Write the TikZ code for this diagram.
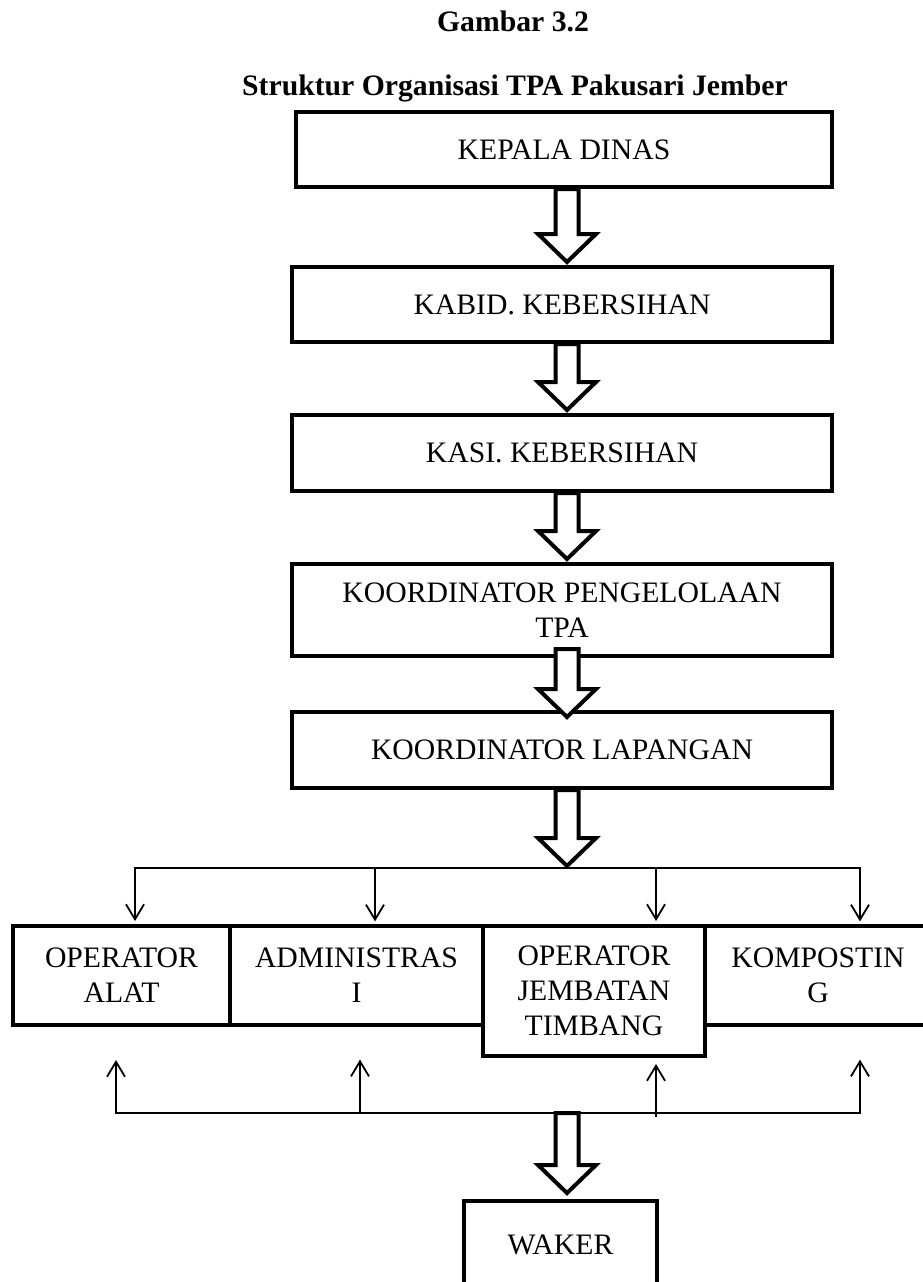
\documentclass[tikz,border=0pt]{standalone}
\usepackage{fontspec}
\setmainfont{Liberation Serif}
\newfontfamily\boxserif{Liberation Serif}
\usetikzlibrary{calc,arrows.meta}
\tikzset{
  box/.style={draw, line width=4pt, inner sep=0pt, align=center, fill=white,
    font=\boxserif\fontsize{29.7}{35}\selectfont},
  thinbox/.style={box, line width=3.2pt},
  fatarrow/.style={draw, fill=white, line width=4pt, line join=miter},
  conn/.style={line width=1.8pt, line cap=rect},
  connarrow/.style={line width=1.8pt, -{Straight Barb[length=15pt,width=18pt,line width=1.8pt]}},
  heading/.style={font=\boxserif\bfseries\fontsize{29.7}{35}\selectfont, anchor=base, inner sep=0pt},
}
\newcommand\FatArr[2]{%
  \draw[fatarrow] ($(#1)+(-11.5,0)$) -- ($(#1)+(11.5,0)$) -- ($(#2)+(11.5,-28)$)
    -- ($(#2)+(29,-28)$) -- (#2) -- ($(#2)+(-29,-28)$) -- ($(#2)+(-11.5,-28)$) -- cycle;}
\begin{document}
\begin{tikzpicture}[x=1pt,y=-1pt]
\useasboundingbox (0,0) rectangle (923,1282);
\clip (0,0) rectangle (923,1282);
\fill[white] (0,0) rectangle (923,1282);

% headings
\node[heading] (fig) at (513,31) {Gambar 3.2};
\node[heading] (ttl) at (515,95) {Struktur Organisasi TPA Pakusari Jember};

% main column
\node[box, minimum width=536pt, minimum height=75pt] (k1) at (564,149.5) {KEPALA DINAS};
\node[box, minimum width=540pt, minimum height=75pt] (k2) at (562,304.5) {KABID. KEBERSIHAN};
\node[box, minimum width=540pt, minimum height=76pt] (k3) at (562,453) {KASI. KEBERSIHAN};
\node[box, minimum width=540pt, minimum height=92pt] (k4) at (562,610) {KOORDINATOR PENGELOLAAN\\TPA};
\node[box, minimum width=540pt, minimum height=76pt] (k5) at (562,750) {KOORDINATOR LAPANGAN};

% bottom row
\node[box, minimum width=217pt, minimum height=99pt] (b1) at (121.5,975.5) {OPERATOR\\ALAT};
\node[thinbox, minimum width=253pt, minimum height=99pt] (b2) at (356.5,975.5) {ADMINISTRAS\\I};
\node[thinbox, minimum width=226pt, minimum height=99pt] (b4) at (818,975.5) {KOMPOSTIN\\G};
\node[box, minimum width=222pt, minimum height=130pt] (b3) at (594,991) {OPERATOR\\JEMBATAN\\TIMBANG};
\node[box, minimum width=193pt, minimum height=88pt] (w) at (560.5,1245) {WAKER};

% axis of the fat arrows
\coordinate (ax) at (567,0);

% distribution line (down)
\coordinate (dc) at (567,868);
\coordinate (d1) at (135,868);
\coordinate (d2) at (375,868);
\coordinate (d3) at (656,868);
\coordinate (d4) at (860,868);
\draw[conn] (d1) -- (d4);
\draw[connarrow] (d1) -- ($(d1 |- b1.north)+(0,-3)$);
\draw[connarrow] (d2) -- ($(d2 |- b2.north)+(0,-3)$);
\draw[connarrow] (d3) -- ($(d3 |- b3.north)+(0,-3)$);
\draw[connarrow] (d4) -- ($(d4 |- b4.north)+(0,-3)$);

% collecting line (up)
\coordinate (uc) at (567,1113);
\coordinate (u1) at (116,1113);
\coordinate (u2) at (360,1113);
\coordinate (u3) at (656,1113);
\coordinate (u4) at (860,1113);
\draw[conn] (u1) -- (u4);
\draw[connarrow] (u1) -- ($(u1 |- b1.south)+(0,33)$);
\draw[connarrow] (u2) -- ($(u2 |- b2.south)+(0,33)$);
\draw[connarrow] ($(u3)+(0,4)$) -- ($(u3 |- b3.south)+(0,6)$);
\draw[connarrow] (u4) -- ($(u4 |- b4.south)+(0,33)$);

% fat arrows
\coordinate (a1t) at (k1.south -| ax);
\coordinate (a1p) at ($(k2.north -| ax)+(0,-3)$);
\coordinate (a2t) at (k2.south -| ax);
\coordinate (a2p) at ($(k3.north -| ax)+(0,-3)$);
\coordinate (a3t) at (k3.south -| ax);
\coordinate (a3p) at ($(k4.north -| ax)+(0,-3)$);
\coordinate (a4t) at ($(k4.south -| ax)+(0,-9)$);
\coordinate (a4p) at ($(k5.north -| ax)+(0,7)$);
\coordinate (a5t) at (k5.south -| ax);
\coordinate (a5p) at ($(dc)+(0,-2)$);
\coordinate (a6t) at (uc);
\coordinate (a6p) at ($(w.north -| ax)+(0,-6)$);
\FatArr{a1t}{a1p}
\FatArr{a2t}{a2p}
\FatArr{a3t}{a3p}
\FatArr{a4t}{a4p}
\FatArr{a5t}{a5p}
\FatArr{a6t}{a6p}
\end{tikzpicture}
\end{document}
